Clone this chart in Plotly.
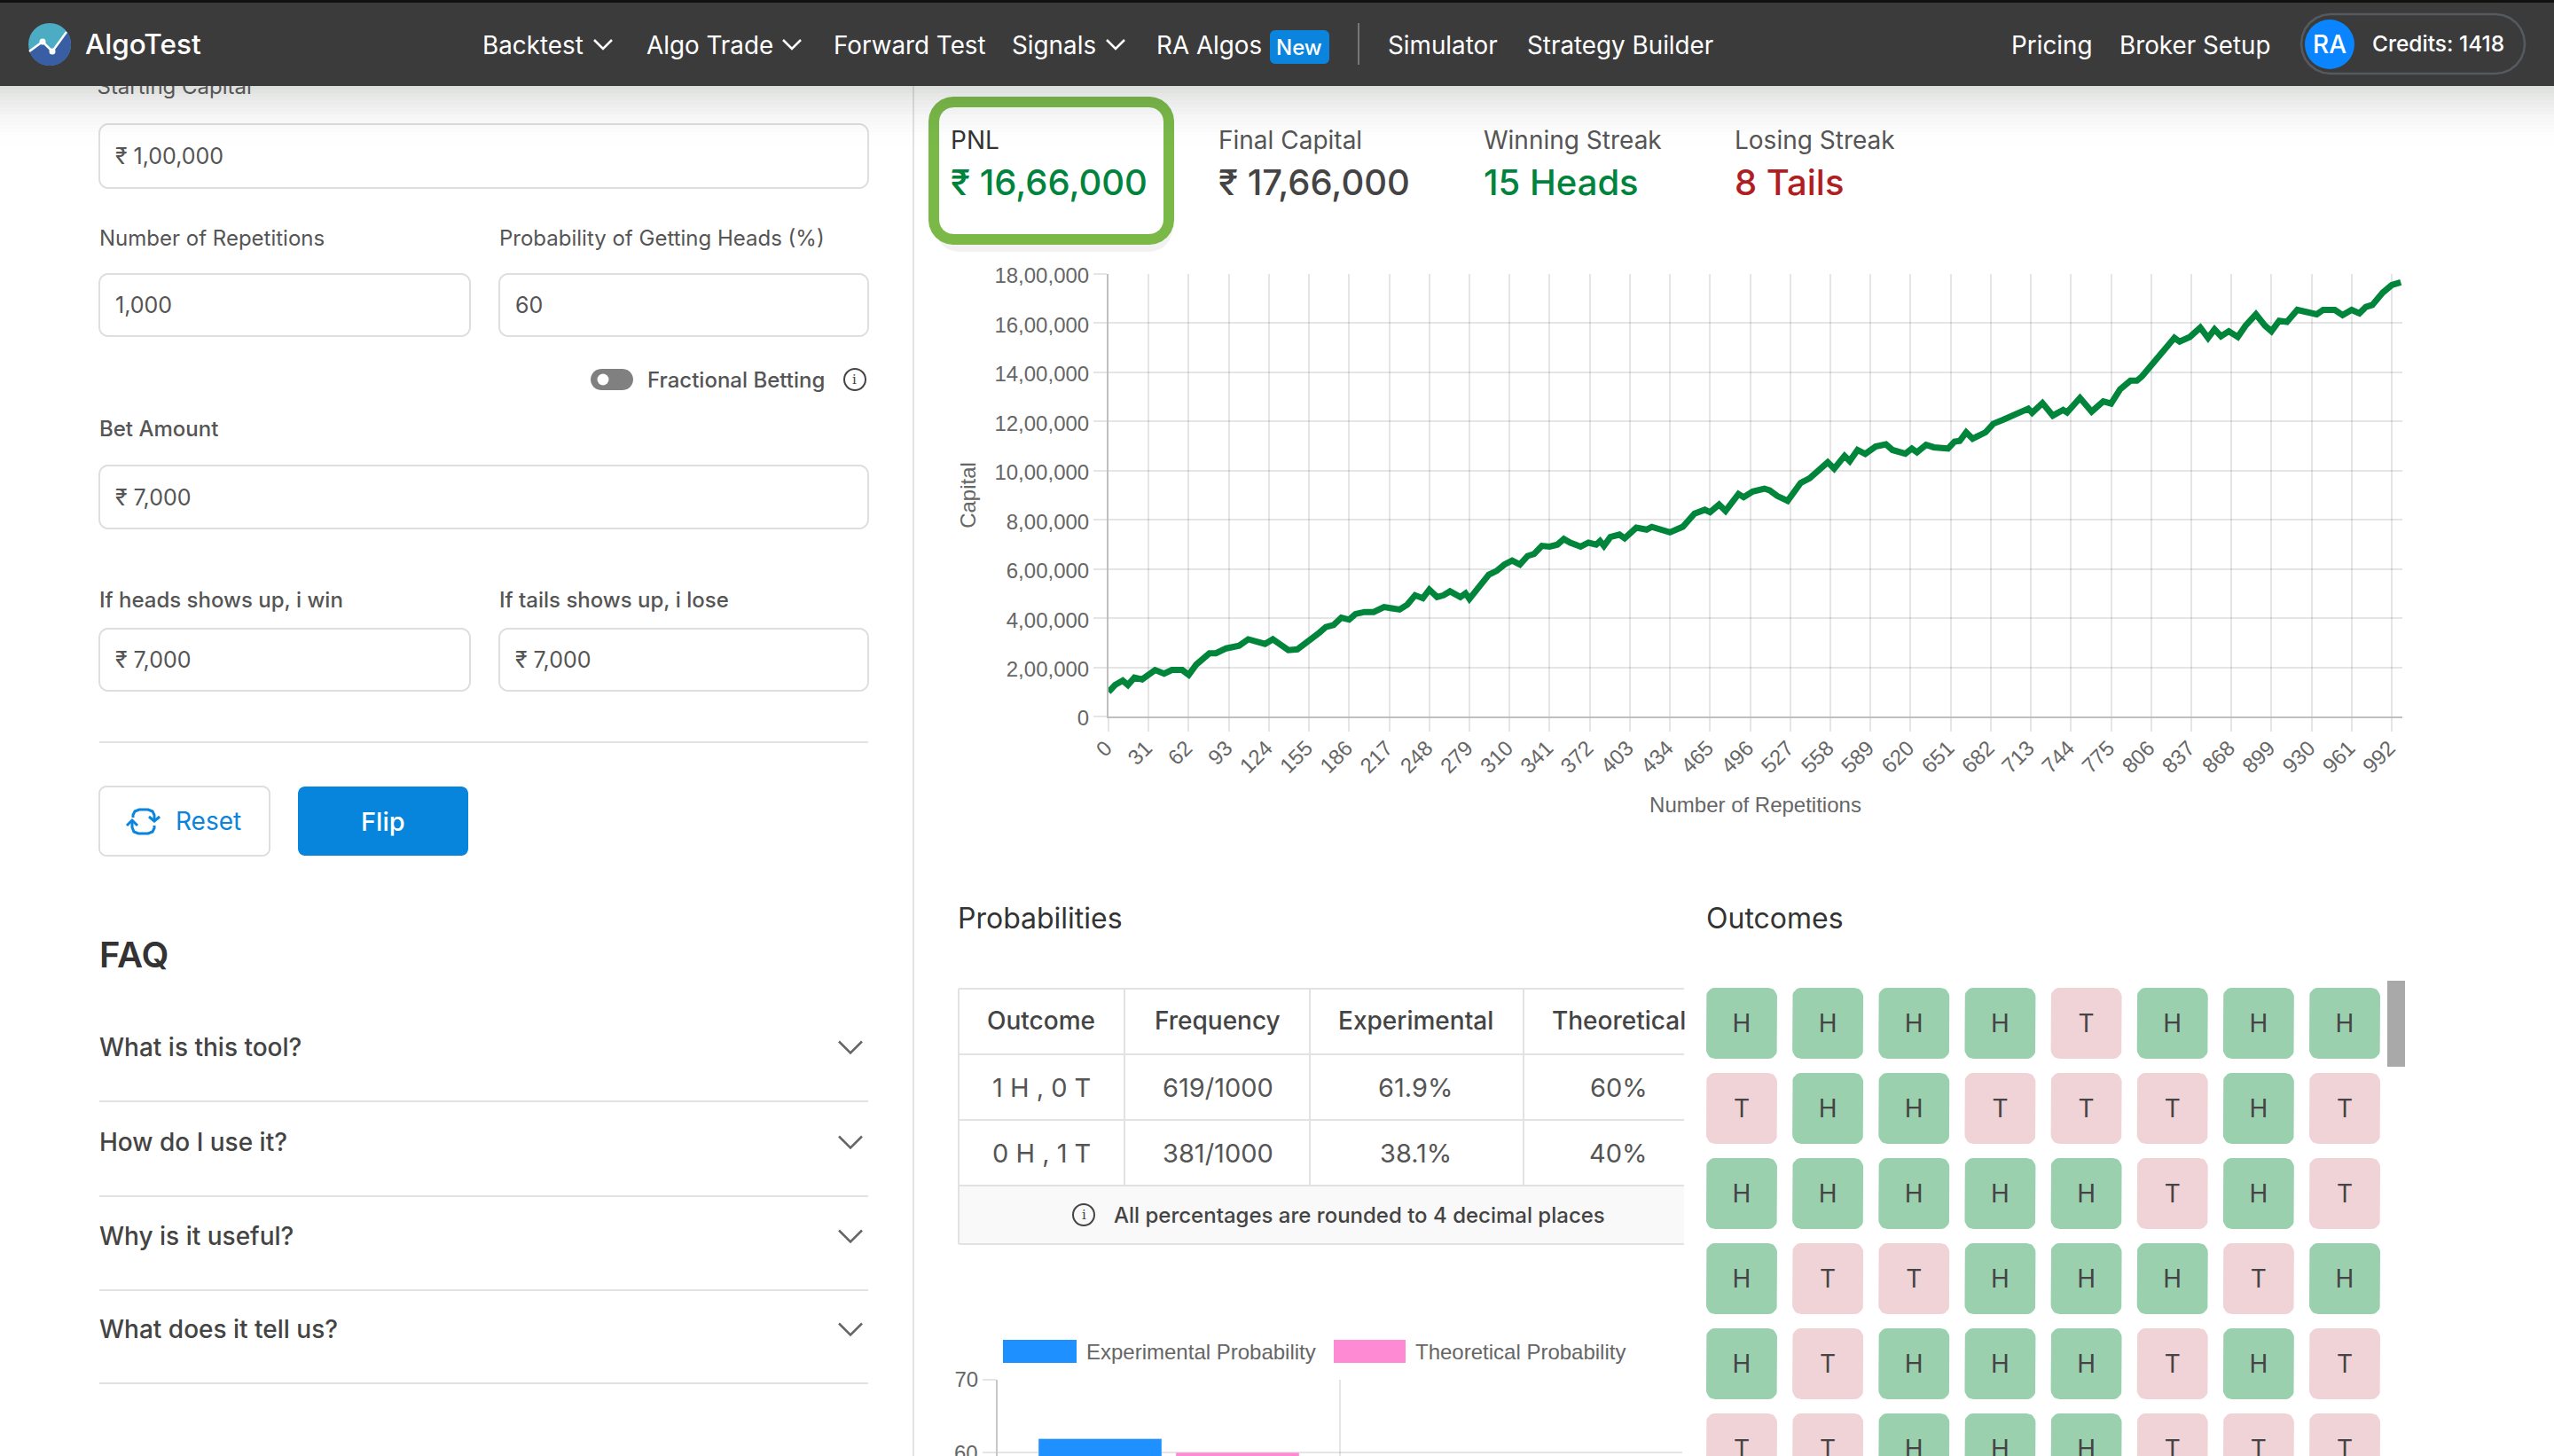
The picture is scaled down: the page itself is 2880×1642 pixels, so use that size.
import numpy as np
import plotly.graph_objects as go

W, H = 2880, 1642

# Capital curve
reps = [0, 5, 11, 15, 20, 26, 36, 43, 49, 57, 62, 68, 78, 83, 91, 101, 108, 121, 127, 139, 146, 154, 163, 168, 174,
        180, 186, 191, 198, 205, 213, 219, 225, 231, 237, 243, 248, 254, 259, 264, 272, 276, 279, 294, 300, 306, 312,
        318, 324, 329, 335, 341, 347, 352, 357, 365, 371, 377, 380, 383, 388, 395, 399, 408, 416, 420, 434, 444, 453,
        461, 465, 472, 477, 487, 491, 498, 507, 511, 517, 525, 535, 542, 548, 556, 561, 569, 573, 579, 585, 593, 601,
        606, 616, 621, 625, 632, 638, 649, 654, 658, 663, 668, 678, 684, 691, 699, 704, 711, 714, 722, 730, 738, 741,
        751, 760, 769, 775, 782, 790, 795, 799, 812, 824, 828, 836, 844, 850, 855, 860, 866, 873, 879, 887, 894, 899,
        905, 911, 919, 929, 934, 939, 948, 954, 961, 967, 972, 977, 985, 992, 996, 999]
capital = [100000, 128000, 146000, 128000, 158000, 151000, 189000, 174000, 189000, 189000, 169000, 212000, 257000,
           257000, 277000, 288000, 314000, 295000, 314000, 270000, 273000, 303000, 341000, 364000, 372000, 402000,
           394000, 417000, 425000, 425000, 445000, 440000, 435000, 455000, 493000, 481000, 516000, 486000, 493000,
           509000, 486000, 501000, 478000, 577000, 592000, 618000, 634000, 618000, 653000, 661000, 694000, 691000,
           699000, 722000, 707000, 691000, 707000, 699000, 714000, 694000, 730000, 740000, 725000, 768000, 760000,
           771000, 749000, 772000, 825000, 841000, 831000, 862000, 836000, 905000, 892000, 915000, 927000, 920000,
           897000, 877000, 950000, 969000, 996000, 1034000, 1008000, 1060000, 1039000, 1084000, 1068000, 1098000,
           1107000, 1084000, 1069000, 1090000, 1075000, 1105000, 1095000, 1090000, 1118000, 1121000, 1156000, 1130000,
           1156000, 1191000, 1206000, 1224000, 1237000, 1252000, 1235000, 1275000, 1224000, 1247000, 1237000, 1296000,
           1240000, 1282000, 1273000, 1331000, 1366000, 1366000, 1384000, 1464000, 1540000, 1525000, 1544000, 1582000,
           1540000, 1575000, 1547000, 1567000, 1544000, 1590000, 1636000, 1590000, 1567000, 1610000, 1605000, 1654000,
           1640000, 1636000, 1654000, 1654000, 1633000, 1654000, 1640000, 1666000, 1674000, 1724000, 1755000, 1758000,
           1766000]
x_ticks = list(range(0, 1000, 31))
y_ticks = [0, 200000, 400000, 600000, 800000, 1000000, 1200000, 1400000, 1600000, 1800000]
y_labels = ["0", "2,00,000", "4,00,000", "6,00,000", "8,00,000", "10,00,000", "12,00,000", "14,00,000", "16,00,000",
            "18,00,000"]

# Bar chart under the table
bar_cats = ["1 H , 0 T", "0 H , 1 T"]
experimental = [61.9, 38.1]
theoretical = [60, 40]

# Probabilities table
table_head = ["Outcome", "Frequency", "Experimental", "Theoretical"]
table_rows = [["1 H , 0 T", "619/1000", "61.9%", "60%"],
              ["0 H , 1 T", "381/1000", "38.1%", "40%"]]

# Outcome cards, row by row
outcomes = ["HHHHTHHH", "THHTTTHT", "HHHHHTHT", "HTTHHHTH", "HTHHHTHT", "TTHHHTTT"]

# Header numbers
stats = [("PNL", "₹ 16,66,000", "#00843d", 1072), ("Final Capital", "₹ 17,66,000", "#444444", 1374),
         ("Winning Streak", "15 Heads", "#00843d", 1673), ("Losing Streak", "8 Tails", "#b01e23", 1956)]
nav_items = [("Backtest", 544), ("Algo Trade", 729), ("Forward Test", 940), ("Signals", 1141), ("RA Algos", 1304),
             ("Simulator", 1565), ("Strategy Builder", 1722), ("Pricing", 2268), ("Broker Setup", 2390)]
faq = ["What is this tool?", "How do I use it?", "Why is it useful?", "What does it tell us?"]
GREY = "#555555"

shapes = []
notes = []


def px(x):
    return x / W


def py(y):
    return 1 - y / H


def label(x, y, text, size=24, color=GREY, weight=400, anchor="left", family="Inter"):
    # annotations carry a small padding, take it back
    x = x - 2.5 if anchor == "left" else x + 2.5 if anchor == "right" else x
    notes.append(dict(xref="paper", yref="paper", x=px(x), y=py(y), text=text, showarrow=False, xanchor=anchor,
                      yanchor="middle", font=dict(family=family, size=size, color=color, weight=weight)))


def rect(x0, y0, x1, y1, fill, layer="below"):
    shapes.append(dict(type="rect", xref="paper", yref="paper", x0=px(x0), x1=px(x1), y0=py(y0), y1=py(y1),
                       fillcolor=fill, line=dict(width=0), layer=layer))


def hline(x0, x1, y, color="#e2e2e2", width=2):
    shapes.append(dict(type="line", xref="paper", yref="paper", x0=px(x0), x1=px(x1), y0=py(y), y1=py(y),
                       line=dict(color=color, width=width), layer="below"))


def vline(x, y0, y1, color="#e2e2e2", width=2):
    shapes.append(dict(type="line", xref="paper", yref="paper", x0=px(x), x1=px(x), y0=py(y0), y1=py(y1),
                       line=dict(color=color, width=width), layer="below"))


def path(points, close=False, fill=None, color=None, width=0, layer="below"):
    d = "M" + " L".join(f"{px(a):.6f},{py(b):.6f}" for a, b in points) + (" Z" if close else "")
    shapes.append(dict(type="path", xref="paper", yref="paper", path=d, fillcolor=fill or "rgba(0,0,0,0)",
                       line=dict(color=color or "rgba(0,0,0,0)", width=width), layer=layer))


def round_pts(x0, y0, x1, y1, r):
    pts = []
    for cx, cy, start in [(x1 - r, y0 + r, -90), (x1 - r, y1 - r, 0), (x0 + r, y1 - r, 90), (x0 + r, y0 + r, 180)]:
        for a in np.radians(np.linspace(start, start + 90, 7)):
            pts.append((cx + r * np.cos(a), cy + r * np.sin(a)))
    return pts


def round_box(x0, y0, x1, y1, r=10, fill="white", color="#dedede", width=2, layer="below"):
    path(round_pts(x0, y0, x1, y1, r), True, fill, color, width, layer)


def circle(cx, cy, r, fill=None, color=None, width=0, layer="below"):
    shapes.append(dict(type="circle", xref="paper", yref="paper", x0=px(cx - r), x1=px(cx + r), y0=py(cy + r),
                       y1=py(cy - r), fillcolor=fill or "rgba(0,0,0,0)",
                       line=dict(color=color or "rgba(0,0,0,0)", width=width), layer=layer))


def chevron(cx, cy, half, color, width=2.5, layer="below"):
    path([(cx - half, cy - half * 0.5), (cx, cy + half * 0.5), (cx + half, cy - half * 0.5)],
         color=color, width=width, layer=layer)


def info_icon(cx, cy):
    circle(cx, cy, 12, color="#444444", width=2)
    label(cx, cy, "i", 15, "#444444", 500, "center", "DejaVu Serif")


# left form
vline(1030, 97, H)
label(112, 268, "Number of Repetitions")
label(563, 268, "Probability of Getting Heads (%)")
label(112, 483, "Bet Amount", weight=500)
label(112, 676, "If heads shows up, i win", weight=500)
label(563, 676, "If tails shows up, i lose", weight=500)
for x0, y0, x1, y1, text in [(112, 140, 979, 212, "₹ 1,00,000"), (112, 309, 530, 379, "1,000"),
                             (563, 309, 979, 379, "60"), (112, 525, 979, 596, "₹ 7,000"),
                             (112, 709, 530, 779, "₹ 7,000"), (563, 709, 979, 779, "₹ 7,000")]:
    round_box(x0, y0, x1, y1)
    label(x0 + 18, (y0 + y1) / 2, text, 25)
round_box(666, 416, 714, 440, 12, "#808080", "#808080", 0)
circle(680, 428, 6.5, "white")
label(730, 428, "Fractional Betting", weight=500)
info_icon(964, 428)
hline(112, 979, 837)
round_box(112, 887, 304, 965, 8)
label(199, 926, "Reset", 28, "#0a84dc")
# reset icon: two rounded strokes, each ending in an arrow head
path([(150, 922), (150, 919), (152, 915), (157, 913), (167, 913), (172, 915), (174, 919), (174, 926)],
     color="#0a84dc", width=3)
path([(168, 921), (174, 926), (180, 921)], color="#0a84dc", width=3)
path([(149, 926), (149, 933), (151, 938), (156, 940), (167, 940), (172, 938), (174, 934), (174, 931)],
     color="#0a84dc", width=3)
path([(143, 931), (149, 925), (155, 931)], color="#0a84dc", width=3)
round_box(336, 887, 528, 965, 8, "#0784dc", "#0784dc", 0)
label(432, 926, "Flip", 29, "white", 500, "center")
label(112, 1076, "FAQ", 40, "#333333", 600)
for q, y in zip(faq, [1181, 1288, 1394, 1499]):
    label(112, y, q, 28, "#444444", 500)
    chevron(959, y, 13, "#666666")
    hline(112, 979, y + 61)

# stat cards
round_box(1055, 122, 1322, 284, 26, "rgba(0,0,0,0.05)", None, 0)
round_box(1053, 115, 1318, 270, 22, "white", "#7ab948", 12)
for head, value, color, x in stats:
    label(x, 158, head, 28, "#333333" if head == "PNL" else GREY)
    label(x, 205, value, 40, color, 500)

# table
label(1080, 1035, "Probabilities", 32, "#333333")
label(1924, 1035, "Outcomes", 32, "#333333")
rect(1081, 1337, 1899, 1403, "#f9f9f9")
for y in [1115, 1189, 1263, 1337, 1403]:
    hline(1081, 1899, y)
for x in [1081, 1268, 1477, 1718]:
    vline(x, 1115, 1337)
vline(1081, 1337, 1403)
column_x = [1174, 1373, 1596, 1825]
for x, text in zip(column_x, table_head):
    label(x, 1151, text, 28, "#444444", 500, "center")
for row, y in zip(table_rows, [1226, 1300]):
    for x, text in zip(column_x, row):
        label(x, y, text, 29, GREY, 400, "center")
info_icon(1222, 1370)
label(1256, 1370, "All percentages are rounded to 4 decimal places", 24, "#444444", 500)

# bar legend
rect(1131, 1511, 1214, 1537, "#1e90ff")
label(1225, 1524, "Experimental Probability", 24, "#666666", family="Liberation Sans")
rect(1504, 1511, 1585, 1537, "#ff8ad4")
label(1596, 1524, "Theoretical Probability", 24, "#666666", family="Liberation Sans")
# plotly drops a tick label this close to the page edge
label(1102, 1638, "60", 24, "#666666", anchor="right", family="Liberation Sans")

# scrollbar
rect(2692, 1106, 2712, 1203, "#a9a9a9")

# navbar shadow, over the top of the form
for i in range(18):
    rect(0, 97 + 4 * i, W, 101 + 4 * i, f"rgba(60,70,60,{0.17 * (1 - i / 18) ** 2:.3f})")

# navbar
rect(0, 0, W, 97, "#3b3b3b", "above")
rect(0, 0, W, 3, "#111111", "above")
circle(56, 50, 24, "#4cacc4", layer="above")
zigzag = [(33, 58), (48, 47), (59, 58), (75, 36)]
tail = np.radians(np.linspace(-38, 160, 30))
path(zigzag[::-1] + [(56 + 24 * np.cos(a), 50 + 24 * np.sin(a)) for a in tail[::-1]], True, "#3a5ea4", layer="above")
path(zigzag, color="white", width=2.5, layer="above")
for x, y in zigzag[1:3]:
    circle(x, y, 3.5, "white", layer="above")
label(96, 50, "AlgoTest", 31.5, "white", 500)
for text, x in nav_items:
    label(x, 51, text, 27.8, "white")
for x in [680, 893, 1258]:
    chevron(x, 50, 10, "white", 2.5, "above")
round_box(1432, 34, 1499, 72, 6, "#0a84dc", None, 0, "above")
label(1465, 53, "New", 24, "white", 500, "center")
vline(1532, 26, 73, "#777777")
shapes[-1]["layer"] = "above"
round_box(2595, 16, 2847, 83, 33, "rgba(0,0,0,0)", "#555a60", 2.5, "above")
circle(2627, 50, 28, "#0a84ff", layer="above")
label(2627, 50, "RA", 28, "white", 500, "center")
label(2675, 49, "Credits: 1418", 24.5, "white", 500)


# outcome cards go through their own axes, in card units
pitch_x, pitch_y, card, corner = 97.2, 96.0, 80.0, 10.0
card_x = {"H": [], "T": []}
card_y = {"H": [], "T": []}
text_x, text_y, text_s = [], [], []
for r, row in enumerate(outcomes):
    for c, side in enumerate(row):
        pts = round_pts(c * pitch_x - card / 2, r * pitch_y - card / 2, c * pitch_x + card / 2, r * pitch_y + card / 2,
                        corner)
        card_x[side] += [p[0] / pitch_x for p in pts] + [None]
        card_y[side] += [p[1] / pitch_y for p in pts] + [None]
        text_x.append(c)
        text_y.append(r + 3 / pitch_y)
        text_s.append(side)

fig = go.Figure()
fig.add_trace(go.Scatter(x=reps, y=capital, mode="lines", line=dict(color="#00853b", width=7), cliponaxis=False,
                         hoverinfo="skip", showlegend=False))
fig.add_trace(go.Bar(x=bar_cats, y=experimental, marker_color="#1e90ff", xaxis="x2", yaxis="y2",
                     name="Experimental Probability", showlegend=False))
fig.add_trace(go.Bar(x=bar_cats, y=theoretical, marker_color="#ff8ad4", xaxis="x2", yaxis="y2",
                     name="Theoretical Probability", showlegend=False))
for side, fill in [("H", "#9bd0af"), ("T", "#f0d3d6")]:
    fig.add_trace(go.Scatter(x=card_x[side], y=card_y[side], mode="lines", fill="toself", fillcolor=fill,
                             line=dict(width=0), xaxis="x3", yaxis="y3", hoverinfo="skip", showlegend=False))
fig.add_trace(go.Scatter(x=text_x, y=text_y, text=text_s, mode="text", xaxis="x3", yaxis="y3", hoverinfo="skip",
                         textfont=dict(family="Inter", size=28, color="#444444"), showlegend=False))
# this one sits under the navbar and is cut by it
fig.add_trace(go.Scatter(x=[109.5], y=[100], text=["Starting Capital"], mode="text", textposition="middle right",
                         xaxis="x4", yaxis="y4", hoverinfo="skip", cliponaxis=False,
                         textfont=dict(family="Inter", size=24, color=GREY), showlegend=False))

tick_font = dict(family="Liberation Sans", size=24, color="#666666")
grid = "rgba(0,0,0,0.1)"
half_x = card / 2 / pitch_x
half_y = card / 2 / pitch_y
fig.update_layout(
    width=W, height=H, autosize=False, margin=dict(l=0, r=0, t=0, b=0, autoexpand=False), paper_bgcolor="white",
    plot_bgcolor="rgba(0,0,0,0)", barmode="group", bargap=0.197, bargroupgap=0.103, shapes=shapes, annotations=notes,
    xaxis=dict(domain=[px(1250), px(2709)], range=[0, 1000.2], tickmode="array", tickvals=x_ticks, tickangle=-45,
               tickfont=tick_font, showgrid=True, gridcolor=grid, gridwidth=2, ticks="outside", ticklen=15,
               tickcolor=grid, tickwidth=2, zeroline=False, showline=True, linecolor="rgba(0,0,0,0.25)", linewidth=2,
               ticklabelstandoff=-5, ticklabelshift=-3,
               title=dict(text="Number of Repetitions", font=tick_font, standoff=23)),
    yaxis=dict(domain=[py(808), py(309)], range=[0, 1800000], tickmode="array", tickvals=y_ticks, ticktext=y_labels,
               tickfont=tick_font, showgrid=True, gridcolor=grid, gridwidth=2, ticks="outside", ticklen=15,
               tickcolor=grid, tickwidth=2, zeroline=False, showline=True, linecolor="rgba(0,0,0,0.25)", linewidth=2,
               ticklabelshift=2, title=dict(text="Capital", font=tick_font, standoff=14)),
    xaxis2=dict(domain=[px(1125), px(1897)], anchor="y2", type="category", range=[-0.5, 1.5], tickson="boundaries",
                showticklabels=False, ticks="", showgrid=True, gridcolor=grid, gridwidth=2, showline=False),
    yaxis2=dict(domain=[0, py(1556)], anchor="x2", range=[70 - (H - 1556) / 8.2, 70], tickmode="array",
                tickvals=[60, 70], tickfont=tick_font, showgrid=True, gridcolor=grid, gridwidth=2, ticks="outside",
                ticklen=15, tickcolor=grid, tickwidth=2, zeroline=False, showline=True,
                linecolor="rgba(0,0,0,0.22)", linewidth=2),
    xaxis3=dict(domain=[px(1924), px(2684)], anchor="y3", range=[-half_x, 7 + half_x], visible=False),
    yaxis3=dict(domain=[0, py(1114)], anchor="x3", range=[(H - 1154) / pitch_y, -half_y], visible=False),
    xaxis4=dict(domain=[0, 1], anchor="y4", range=[0, W], visible=False),
    yaxis4=dict(domain=[0, 1], anchor="x4", range=[H, 0], visible=False),
)

fig.write_html("out.html", config=dict(displayModeBar=False),
               post_script="document.body.style.margin='0';document.body.style.overflow='hidden';")
